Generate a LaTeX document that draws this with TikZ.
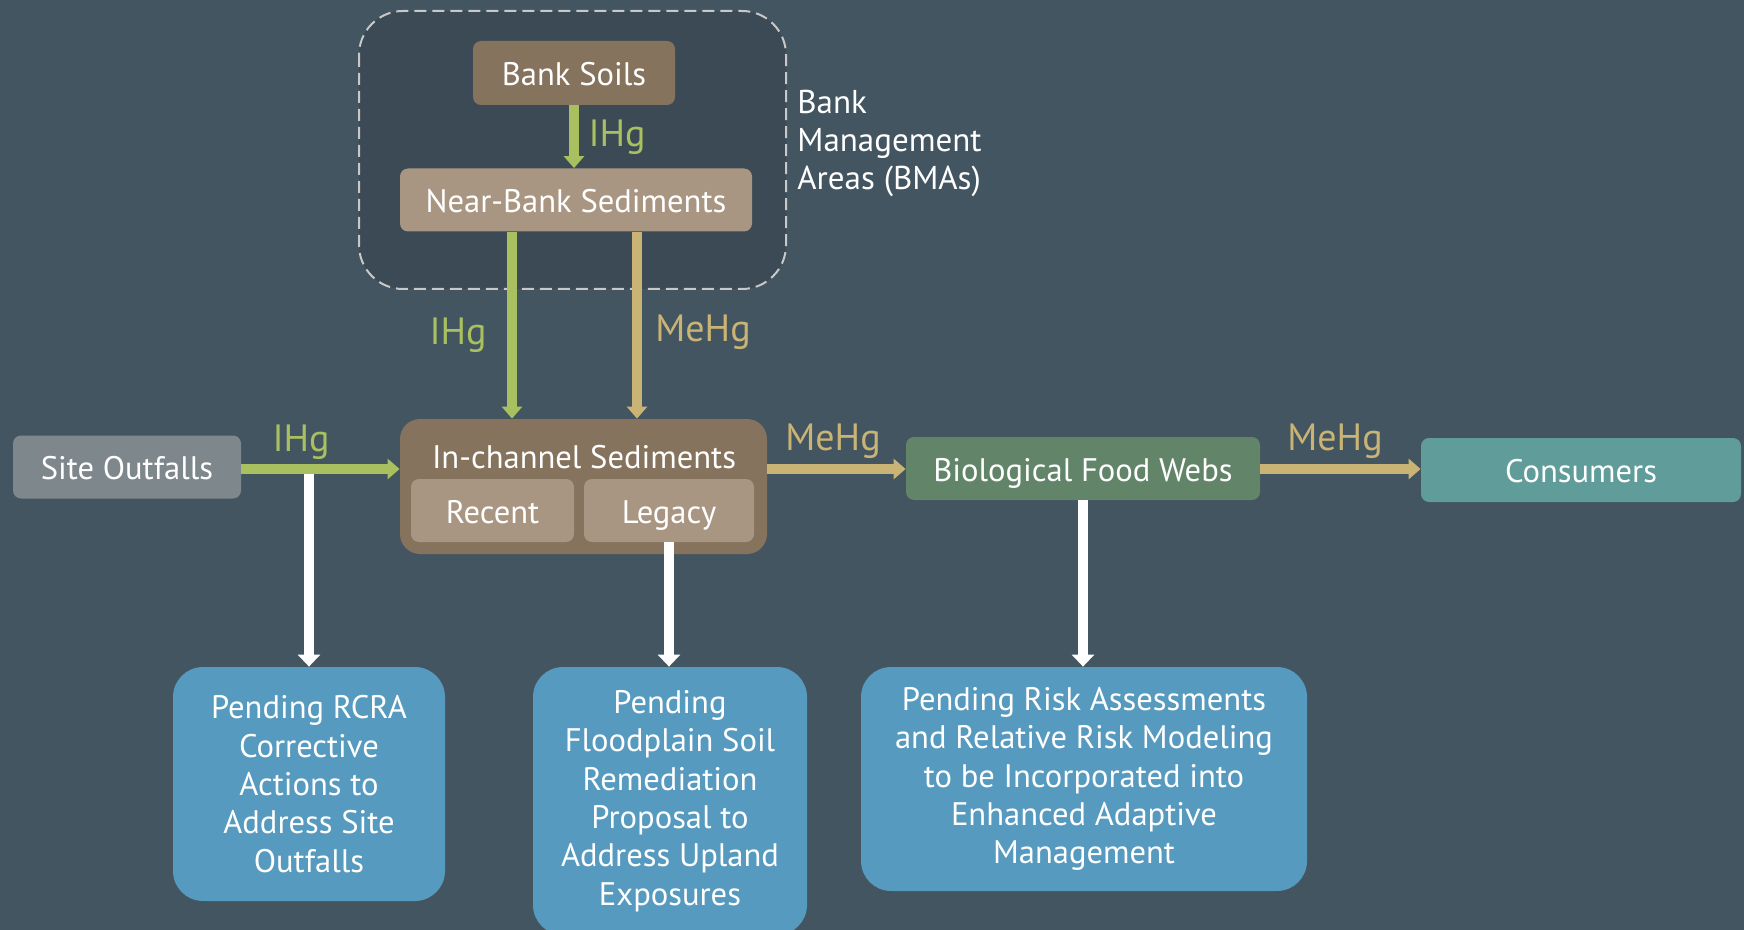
\documentclass[tikz,border=0pt]{standalone}
\usepackage{fontspec}
\setmainfont{PT Sans}
\usetikzlibrary{arrows.meta}
\definecolor{bg}{HTML}{435560}
\definecolor{bmafill}{HTML}{3B4A55}
\definecolor{dashc}{HTML}{C8C8C8}
\definecolor{brownd}{HTML}{85735E}
\definecolor{brownl}{HTML}{A89683}
\definecolor{greyb}{HTML}{7E878B}
\definecolor{bioc}{HTML}{62856A}
\definecolor{consc}{HTML}{5F9C9A}
\definecolor{bluec}{HTML}{569ABF}
\definecolor{greena}{HTML}{A8C060}
\definecolor{tana}{HTML}{C9B375}
\tikzset{
  boxs/.style={rectangle, rounded corners=4pt, text=white, inner sep=0pt, align=center,
    font=\fontsize{16.3}{19.2}\selectfont},
  onel/.style={text height=12.5pt, text depth=0pt},
  bluebox/.style={boxs, fill=bluec, rounded corners=15pt},
  flowg/.style={draw=greena, line width=5pt, -{Triangle[width=10pt,length=6pt]}},
  flowt/.style={draw=tana, line width=5pt, -{Triangle[width=10pt,length=6pt]}},
  floww/.style={draw=white, line width=5pt, -{Triangle[width=11pt,length=6pt]}},
  lblg/.style={text=greena, font=\fontsize{19}{22}\selectfont, inner sep=0pt},
  lblt/.style={text=tana, font=\fontsize{19}{22}\selectfont, inner sep=0pt},
}
\begin{document}
\begin{tikzpicture}[x=0.5pt, y=-0.5pt]
\fill[bg] (0,0) rectangle (1744,930);
\useasboundingbox (0,0) rectangle (1744,930);
% BMA dashed area
\draw[dashc, fill=bmafill, line width=1pt, dash pattern=on 6pt off 3pt, rounded corners=22pt] (359,11) rectangle (786,289);
\node[anchor=west, text=white, align=left, inner sep=0pt, font=\fontsize{16.5}{19}\selectfont] (bma) at (797,143) {Bank\\Management\\Areas (BMAs)};
% nodes
\node[boxs, onel, fill=brownd, minimum width=101pt, minimum height=32pt] (bank) at (574,73) {Bank Soils};
\node[boxs, onel, fill=brownl, minimum width=176pt, minimum height=31.5pt] (near) at (576,200) {Near-Bank Sediments};
\node[boxs, onel, fill=greyb, minimum width=114pt, minimum height=31.5pt] (site) at (127,467) {Site Outfalls};
\node[boxs, fill=brownd, rounded corners=10pt, minimum width=183.5pt, minimum height=67.5pt] (inch) at (583.5,486.5) {};
\node[boxs, onel] (inchl) at (584,456) {In-channel Sediments};
\node[boxs, onel, fill=brownl, minimum width=81.5pt, minimum height=31.5pt] (recent) at (492.5,510.5) {Recent};
\node[boxs, onel, fill=brownl, minimum width=85pt, minimum height=31.5pt] (legacy) at (669,510.5) {Legacy};
\node[boxs, onel, fill=bioc, minimum width=177pt, minimum height=31.5pt] (bio) at (1083,468.5) {Biological Food Webs};
\node[boxs, onel, fill=consc, minimum width=160pt, minimum height=32pt] (cons) at (1581,470) {Consumers};
\node[bluebox, minimum width=136pt, minimum height=117pt] (rcra) at (309,784) {Pending RCRA\\Corrective\\Actions to\\Address Site\\Outfalls};
\node[bluebox, minimum width=137pt, minimum height=134pt] (flood) at (670,801) {Pending\\Floodplain Soil\\Remediation\\Proposal to\\Address Upland\\Exposures};
\node[bluebox, minimum width=223pt, minimum height=112pt] (risk) at (1084,779) {Pending Risk Assessments\\and Relative Risk Modeling\\to be Incorporated into\\Enhanced Adaptive\\Management};
% helper coordinates
\coordinate (gx) at (512,0);
\coordinate (tx) at (637,0);
\coordinate (j) at (309,469);
% white arrows
\draw[floww] (j) -- (rcra.north -| j);
\draw[floww] (legacy.south) -- (flood.north -| legacy.south);
\draw[floww] (bio.south) -- (risk.north -| bio.south);
% flows
\draw[flowg] (bank.south) -- (near.north -| bank.south);
\draw[flowg] (near.south -| gx) -- (inch.north -| gx);
\draw[flowt] (near.south -| tx) -- (inch.north -| tx);
\draw[flowg] (site.east |- j) -- (inch.west |- j);
\draw[flowt] (inch.east |- j) -- (bio.west |- j);
\draw[flowt] (bio.east |- j) -- (cons.west |- j);
% labels
\node[lblg] (l1) at (617,137) {IHg};
\node[lblg] (l2) at (458,335) {IHg};
\node[lblt] (l3) at (703,332) {MeHg};
\node[lblg] (l4) at (301,442) {IHg};
\node[lblt] (l5) at (833,441) {MeHg};
\node[lblt] (l6) at (1335,441) {MeHg};
\end{tikzpicture}
\end{document}
